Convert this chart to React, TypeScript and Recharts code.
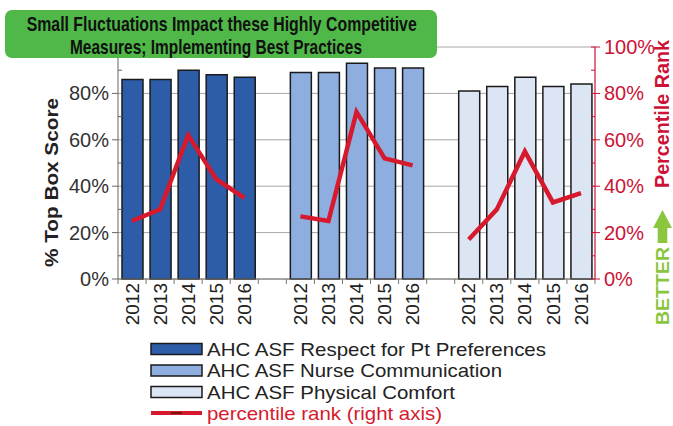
import React from 'react';
import { ComposedChart, Bar, Line, XAxis, YAxis, CartesianGrid, Cell } from 'recharts';

const years = ['2012', '2013', '2014', '2015', '2016'];
const respectScores = [0.86, 0.86, 0.9, 0.88, 0.87];
const nurseScores = [0.89, 0.89, 0.93, 0.91, 0.91];
const comfortScores = [0.81, 0.83, 0.87, 0.83, 0.84];
const respectRank = [0.25, 0.3, 0.62, 0.43, 0.35];
const nurseRank = [0.27, 0.25, 0.72, 0.52, 0.49];
const comfortRank = [0.17, 0.3, 0.55, 0.33, 0.37];
const seriesNames = [
  'AHC ASF Respect for Pt Preferences',
  'AHC ASF Nurse Communication',
  'AHC ASF Physical Comfort',
];
const lineName = 'percentile rank (right axis)';
const majorTicks = [0, 0.2, 0.4, 0.6, 0.8, 1];
const allTicks = [0, 0.1, 0.2, 0.3, 0.4, 0.5, 0.6, 0.7, 0.8, 0.9, 1];
const titleLines = [
  'Small Fluctuations Impact these Highly Competitive',
  'Measures; Implementing Best Practices',
];
const leftTitle = '% Top Box Score';
const rightTitle = 'Percentile Rank';
const betterText = 'BETTER';

const COLORS = ['#2d5ca8', '#8eaee0', '#dce5f4'];
const RED = '#d7192d';
const AXIS_RED = '#cc1236';
const FONT = '"Liberation Sans", Arial, Helvetica, sans-serif';

const groups = [
  { scores: respectScores, ranks: respectRank },
  { scores: nurseScores, ranks: nurseRank },
  { scores: comfortScores, ranks: comfortRank },
];

type Row = { year: string; score: number | null; rank: number | null; group: number };
const data: Row[] = [];
groups.forEach((g, gi) => {
  if (gi > 0) data.push({ year: '', score: null, rank: null, group: -1 });
  years.forEach((y, i) => data.push({ year: y, score: g.scores[i], rank: g.ranks[i], group: gi }));
});

const pct = (v: number) => `${Math.round(v * 100)}%`;
const isMajor = (v: number) => Math.round(v * 100) % 20 === 0;

const XTick = (props: any) => {
  const { x, y, payload, index } = props;
  const half = payload && payload.offset ? payload.offset : 14;
  return (
    <g>
      <line x1={x - half} x2={x - half} y1={y} y2={y + 5} stroke="#777" strokeWidth={1} />
      {index === data.length - 1 && (
        <line x1={x + half} x2={x + half} y1={y} y2={y + 5} stroke="#777" strokeWidth={1} />
      )}
      {payload.value ? (
        <text
          x={x}
          y={y + 4}
          transform={`rotate(-90 ${x} ${y + 4})`}
          textAnchor="end"
          dy="0.35em"
          fontSize={19}
          fontFamily={FONT}
          fill="#222"
        >
          {payload.value}
        </text>
      ) : null}
    </g>
  );
};

const LeftTick = (props: any) => {
  const { x, y, payload } = props;
  const major = isMajor(payload.value);
  const showLabel = major && payload.value < 1;
  return (
    <g>
      {major ? (
        <line x1={x - 6} x2={x} y1={y} y2={y} stroke="#666" strokeWidth={1} />
      ) : (
        <line x1={x} x2={x + 4} y1={y} y2={y} stroke="#666" strokeWidth={1} />
      )}
      {showLabel && (
        <text x={x - 9} y={y} dy="0.35em" textAnchor="end" fontSize={20} fontFamily={FONT} fill="#333">
          {pct(payload.value)}
        </text>
      )}
    </g>
  );
};

const RightTick = (props: any) => {
  const { x, y, payload } = props;
  const major = isMajor(payload.value);
  return (
    <g>
      {major ? (
        <line x1={x - 4} x2={x + 5} y1={y} y2={y} stroke={AXIS_RED} strokeWidth={1} />
      ) : (
        <line x1={x - 4} x2={x} y1={y} y2={y} stroke={AXIS_RED} strokeWidth={1} />
      )}
      {major && (
        <text x={x + 9} y={y} dy="0.35em" textAnchor="start" fontSize={20} fontFamily={FONT} fill={AXIS_RED}>
          {pct(payload.value)}
        </text>
      )}
    </g>
  );
};

const legendRows = [
  { label: seriesNames[0], kind: 'bar', color: COLORS[0], len: 339, cy: 349 },
  { label: seriesNames[1], kind: 'bar', color: COLORS[1], len: 295, cy: 370.5 },
  { label: seriesNames[2], kind: 'bar', color: COLORS[2], len: 248, cy: 392 },
  { label: lineName, kind: 'line', color: RED, len: 235, cy: 413 },
];

export default function App() {
  return (
    <div style={{ position: 'absolute', left: 0, top: 0, width: 673, height: 426, background: '#fff' }}>
      <div style={{ position: 'absolute', left: 0, top: 0 }}>
        <ComposedChart
          width={673}
          height={426}
          data={data}
          margin={{ top: 47, right: 18, bottom: 87, left: 58 }}
          barCategoryGap="12.5%"
        >
          <CartesianGrid
            yAxisId="left"
            vertical={false}
            horizontalValues={majorTicks}
            stroke="#a6a6a6"
            strokeWidth={1}
          />
          <XAxis
            dataKey="year"
            interval={0}
            height={60}
            tickSize={0}
            tickMargin={0}
            tickLine={false}
            tick={<XTick />}
            axisLine={{ stroke: '#777', strokeWidth: 1 }}
            allowDuplicatedCategory
          />
          <YAxis
            yAxisId="left"
            orientation="left"
            width={60}
            domain={[0, 1]}
            ticks={allTicks}
            interval={0}
            tickSize={0}
            tickMargin={0}
            tickLine={false}
            tick={<LeftTick />}
            axisLine={{ stroke: '#666', strokeWidth: 1 }}
          />
          <YAxis
            yAxisId="right"
            orientation="right"
            width={60}
            domain={[0, 1]}
            ticks={allTicks}
            interval={0}
            tickSize={0}
            tickMargin={0}
            tickLine={false}
            tick={<RightTick />}
            axisLine={{ stroke: AXIS_RED, strokeWidth: 1.2 }}
          />
          <Bar
            yAxisId="left"
            dataKey="score"
            barSize={21}
            stroke="#1a1a1a"
            strokeWidth={1.5}
            isAnimationActive={false}
          >
            {data.map((d, i) => (
              <Cell key={i} fill={d.group >= 0 ? COLORS[d.group] : 'none'} />
            ))}
          </Bar>
          <Line
            yAxisId="right"
            dataKey="rank"
            stroke={RED}
            strokeWidth={4.5}
            dot={false}
            activeDot={false}
            connectNulls={false}
            isAnimationActive={false}
            type="linear"
          />
        </ComposedChart>
      </div>
      <svg
        width={673}
        height={426}
        style={{ position: 'absolute', left: 0, top: 0, pointerEvents: 'none' }}
        fontFamily={FONT}
      >
        <rect x={5} y={10} width={432} height={48} rx={7} ry={7} fill="#4fb848" />
        <text x={221.7} y={31} textAnchor="middle" fontSize={20.5} fontWeight="bold" fill="#111"
          textLength={390} lengthAdjust="spacingAndGlyphs">
          {titleLines[0]}
        </text>
        <text x={216} y={53.5} textAnchor="middle" fontSize={20.5} fontWeight="bold" fill="#111"
          textLength={292} lengthAdjust="spacingAndGlyphs">
          {titleLines[1]}
        </text>

        <text x={52} y={182.5} transform="rotate(-90 52 182.5)" textAnchor="middle" dy="0.35em"
          fontSize={18} fontWeight="bold" fill="#222" textLength={169} lengthAdjust="spacingAndGlyphs">
          {leftTitle}
        </text>
        <text x={662} y={114} transform="rotate(-90 662 114)" textAnchor="middle" dy="0.35em"
          fontSize={19.5} fontWeight="bold" fill={AXIS_RED} textLength={148} lengthAdjust="spacingAndGlyphs">
          {rightTitle}
        </text>
        <path d="M662.5 210 L672 228 L667.3 228 L667.3 243 L657.7 243 L657.7 228 L653 228 Z" fill="#8cc63f" />
        <text x={662} y={286} transform="rotate(-90 662 286)" textAnchor="middle" dy="0.35em"
          fontSize={19} fontWeight="bold" fill="#8cc63f" textLength={78} lengthAdjust="spacingAndGlyphs">
          {betterText}
        </text>

        {legendRows.map((r, i) => (
          <g key={i}>
            {r.kind === 'bar' ? (
              <rect x={151} y={r.cy - 5.5} width={51} height={11} fill={r.color} stroke="#1a1a1a" strokeWidth={1.5} />
            ) : (
              <g>
                <line x1={151} x2={202} y1={r.cy} y2={r.cy} stroke={RED} strokeWidth={4} />
                <line x1={171} x2={182} y1={r.cy} y2={r.cy} stroke="#5a1010" strokeWidth={1.5} />
              </g>
            )}
            <text x={207} y={r.cy} dy="0.35em" fontSize={19} fill={r.kind === 'line' ? RED : '#222'}
              textLength={r.len} lengthAdjust="spacingAndGlyphs">
              {r.label}
            </text>
          </g>
        ))}
      </svg>
    </div>
  );
}
